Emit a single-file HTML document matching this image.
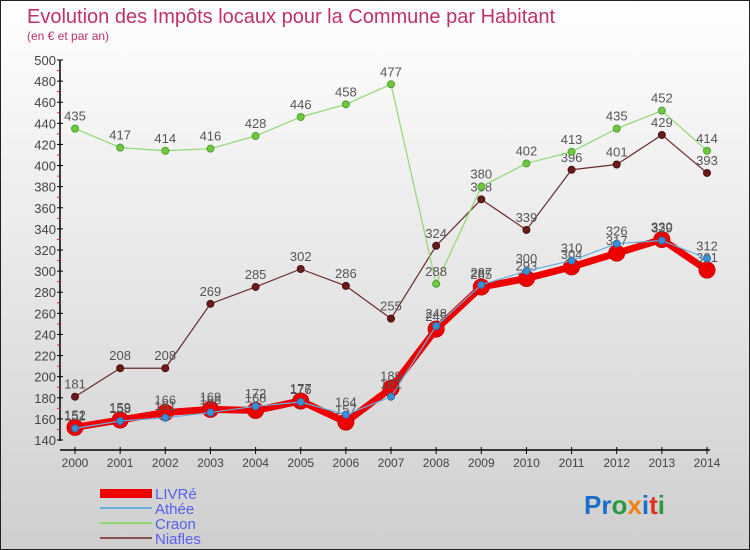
<!DOCTYPE html>
<html><head><meta charset="utf-8"><style>
body{margin:0;width:750px;height:550px;overflow:hidden;font-family:"Liberation Sans",sans-serif}
svg{display:block}
</style></head><body>
<svg id="c" width="750" height="550">
<defs><linearGradient id="bg" x1="0" y1="0" x2="0" y2="1"><stop offset="0" stop-color="#ffffff"/><stop offset="1" stop-color="#cfcfcf"/></linearGradient></defs>
<rect x="0.5" y="0.5" width="749" height="549" fill="url(#bg)" stroke="#222"/>
<text x="27" y="23" font-size="20" fill="#c0306a">Evolution des Impôts locaux pour la Commune par Habitant</text>
<text x="27" y="40" font-size="12" fill="#c0306a">(en € et par an)</text>
<g id="axes"></g><g id="series"></g>
<g>
<rect x="100" y="489" width="52" height="9" fill="#ee0000"/>
<text x="155" y="499" font-size="15" fill="#5560ee">LIVRé</text>
<rect x="100" y="507" width="52" height="2" fill="#6aaedc"/>
<text x="155" y="514" font-size="15" fill="#5560ee">Athée</text>
<rect x="100" y="522" width="52" height="2" fill="#8fd870"/>
<text x="155" y="529" font-size="15" fill="#5560ee">Craon</text>
<rect x="100" y="537" width="52" height="2" fill="#8a5050"/>
<text x="155" y="544" font-size="15" fill="#5560ee">Niafles</text>
</g>
<text x="584" y="514" font-size="26" font-weight="bold"><tspan fill="#1a6fc8">Pr</tspan><tspan fill="#2a9a40">o</tspan><tspan fill="#f08010">x</tspan><tspan fill="#1a6fc8">i</tspan><tspan fill="#e03020">t</tspan><tspan fill="#2a9a40">i</tspan></text>
</svg>
<script>
const years=[2000,2001,2002,2003,2004,2005,2006,2007,2008,2009,2010,2011,2012,2013,2014];
const livre=[152,159,166,169,168,177,157,189,245,285,293,304,317,330,301];
const athee=[151,158,161,166,172,176,164,181,248,287,300,310,326,329,312];
const craon=[435,417,414,416,428,446,458,477,288,380,402,413,435,452,414];
const niafles=[181,208,208,269,285,302,286,255,324,368,339,396,401,429,393];
const yTicks=[140,160,180,200,220,240,260,280,300,320,340,360,380,400,420,440,460,480,500];
const NS="http://www.w3.org/2000/svg";
function X(i){return 75+i*(707-75)/(years.length-1);}
function Y(v){return 440-(v-140)*(380/360);}
function mk(t,a,p){const e=document.createElementNS(NS,t);for(const k in a)e.setAttribute(k,a[k]);p.appendChild(e);return e;}
const ax=document.getElementById('axes');
const yl=mk('line',{x1:60,y1:60,x2:60,y2:441,stroke:'#000','stroke-width':1.5},ax);


yTicks.forEach((v,k)=>{mk('line',{x1:57,x2:63,y1:Y(v),y2:Y(v),stroke:'#000'},ax);
 if(k<yTicks.length-1)mk('line',{x1:57,x2:60,y1:Y(v+10),y2:Y(v+10),stroke:'#e02020'},ax);
 const t=mk('text',{x:56,y:Y(v)+5,'font-size':13,fill:'#444','text-anchor':'end'},ax);t.textContent=v;
 
 });
const xl=mk('line',{x1:60,y1:450,x2:710,y2:450,stroke:'#000','stroke-width':1.5},ax);


years.forEach((y,i)=>{mk('line',{x1:X(i),x2:X(i),y1:447,y2:454,stroke:'#000'},ax);
 const t=mk('text',{x:X(i),y:467,'font-size':12,fill:'#444','text-anchor':'middle'},ax);t.textContent=y;
 
 });
const sg=document.getElementById('series');
function draw(vals,name,color,w,r,dot,dotStroke){
 const g=mk('g',{},sg);
 
 
 const pl=mk('polyline',{points:vals.map((v,i)=>X(i)+','+Y(v)).join(' '),fill:'none',stroke:color,'stroke-width':w,'stroke-linejoin':'round'},g);
 
 
 vals.forEach((v,i)=>{const c=mk('circle',{cx:X(i),cy:Y(v),r:r,fill:dot,stroke:dotStroke,'stroke-width':1},g);
  
  
  const t=mk('text',{x:X(i),y:Y(v)-8,'font-size':13,fill:'#555','text-anchor':'middle'},g);t.textContent=v;
  
  });
}
draw(niafles,'niafles','#6b2a2a',1.2,3.5,'#6b1a1a','#4a1010');
draw(craon,'craon','#90d870',1.2,3.5,'#70c840','#50a030');
draw(livre,'livre','#ee0000',7,8,'#ee0000','#cc0000');
draw(athee,'athee','#6aaedc',1.2,3.5,'#3a90d0','#2a70b0');
</script>
</body></html>
